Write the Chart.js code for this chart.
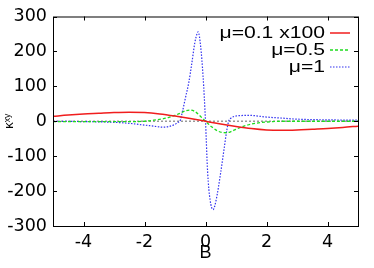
<!DOCTYPE html>
<html>
<head>
<meta charset="utf-8">
<script src="https://cdn.jsdelivr.net/npm/chart.js@4"></script>
<style>
  html, body { margin: 0; padding: 0; background: #fff; }
  #wrap { width: 374px; height: 268px; }
</style>
</head>
<body>
<div id="wrap"><canvas id="kappaChart"></canvas></div>
<script>
// tick labels
const xTicks = [-4, -2, 0, 2, 4];
const yTicks = [-300, -200, -100, 0, 100, 200, 300];

// mu = 0.1 (scaled x100)
const redB = [-5, -4.5, -4, -3.5, -3, -2.5, -2, -1.5, -1, -0.5, 0, 0.5, 1, 1.5, 2, 2.5, 3, 3.5, 4, 4.5, 5];
const redK = [14, 18, 21, 23, 25, 26, 25, 21, 15, 8, 0, -8, -15, -21, -25, -26, -25, -23, -21, -18, -14];

// mu = 0.5
const greenB = [-5, -4, -3, -2.5, -2, -1.7, -1.4, -1.2, -1, -0.8, -0.65, -0.5, -0.35, -0.2, 0, 0.2, 0.4, 0.55, 0.7, 0.85, 1, 1.2, 1.5, 1.8, 2.2, 2.5, 3, 4, 5];
const greenK = [-1, -1, -1, -1, 0, 3, 7, 11, 17, 24, 30, 32, 28, 17, 0, -16, -28, -32, -33, -29, -23, -16, -8, -4, -1, 0, 0, 0, 0];

// mu = 1
const blueB = [-5, -4, -3, -2.5, -2, -1.7, -1.4, -1.2, -1, -0.9, -0.84, -0.75, -0.65, -0.55, -0.45, -0.35, -0.28, -0.24, -0.16, -0.08, 0, 0.07, 0.15, 0.25, 0.35, 0.5, 0.6, 0.7, 0.76, 0.85, 1, 1.12, 1.4, 1.6, 2, 2.5, 3, 4, 5];
const blueK = [0, -1, -3, -6, -11, -14, -17, -15, -9, -3, 0, 30, 70, 110, 165, 225, 250, 256, 215, 129, 0, -146, -225, -253, -225, -146, -85, -25, 0, 10, 15, 16, 17, 16, 12, 9, 6, 4, 3];

const toPoints = (bs, ks) => bs.map((b, i) => ({ x: b, y: ks[i] }));

Chart.defaults.font.family = "'Liberation Sans', Arial, sans-serif";
Chart.defaults.color = '#000';
const tickFont = { family: "'DejaVu Sans', sans-serif", size: 17.5 };

const frame = {
    id: 'frame',
    beforeDatasetsDraw(chart) {
        const { ctx, chartArea: a, scales: { y } } = chart;
        const y0 = y.getPixelForValue(0);
        ctx.save();
        ctx.strokeStyle = '#9a9a9a';
        ctx.lineWidth = 1.5;
        ctx.setLineDash([2, 2]);
        ctx.beginPath();
        ctx.moveTo(a.left, y0);
        ctx.lineTo(a.right, y0);
        ctx.stroke();
        ctx.restore();
    },
    afterDraw(chart) {
        const { ctx, chartArea: a, scales: { x, y } } = chart;
        ctx.save();
        ctx.strokeStyle = '#000';
        ctx.lineWidth = 1;
        ctx.strokeRect(a.left + 0.5, a.top + 0.5, a.right - a.left, a.bottom - a.top);
        // inward ticks on all four sides
        ctx.beginPath();
        xTicks.forEach(v => {
            const px = Math.round(x.getPixelForValue(v)) + 0.5;
            ctx.moveTo(px, a.bottom); ctx.lineTo(px, a.bottom - 4);
            ctx.moveTo(px, a.top); ctx.lineTo(px, a.top + 4);
        });
        yTicks.forEach(v => {
            const py = Math.round(y.getPixelForValue(v)) + 0.5;
            ctx.moveTo(a.left, py); ctx.lineTo(a.left + 4, py);
            ctx.moveTo(a.right, py); ctx.lineTo(a.right - 4, py);
        });
        ctx.stroke();

        // gnuplot-style key: text (a bit stretched) then line sample
        chart.data.datasets.forEach((ds, i) => {
            const ry = a.top + 16 + i * 17;
            const tx = a.right - 33;
            ctx.save();
            ctx.translate(tx, ry + 1);
            ctx.scale(1.32, 1);
            ctx.font = "16px 'Liberation Sans', Arial, sans-serif";
            ctx.textAlign = 'right';
            ctx.textBaseline = 'middle';
            ctx.fillStyle = '#000';
            ctx.fillText(ds.label, 0, 0);
            ctx.restore();
            ctx.strokeStyle = ds.borderColor;
            ctx.lineWidth = ds.borderWidth;
            ctx.setLineDash(ds.borderDash || []);
            ctx.beginPath();
            ctx.moveTo(a.right - 28, ry + 0.5);
            ctx.lineTo(a.right - 8, ry + 0.5);
            ctx.stroke();
        });
        ctx.restore();
    }
};

new Chart(document.getElementById('kappaChart'), {
    type: 'line',
    data: {
        datasets: [
            {
                label: 'μ=0.1 x100',
                data: toPoints(redB, redK),
                borderColor: 'rgb(240,30,30)',
                borderWidth: 1.5
            },
            {
                label: 'μ=0.5',
                data: toPoints(greenB, greenK),
                borderColor: 'rgb(30,220,30)',
                borderWidth: 1.3,
                borderDash: [3, 2]
            },
            {
                label: 'μ=1',
                data: toPoints(blueB, blueK),
                borderColor: 'rgb(50,50,240)',
                borderWidth: 1.2,
                borderDash: [1.5, 1.5]
            }
        ]
    },
    options: {
        responsive: true,
        maintainAspectRatio: false,
        animation: false,
        elements: { point: { radius: 0 }, line: { cubicInterpolationMode: 'monotone' } },
        layout: { padding: { top: 8, right: 16, left: 0, bottom: 0 } },
        scales: {
            x: {
                type: 'linear',
                min: -5,
                max: 5,
                afterBuildTicks: s => { s.ticks = xTicks.map(v => ({ value: v })); },
                afterFit: s => { s.height = 42; },
                grid: { display: false, drawTicks: false },
                border: { display: false },
                ticks: { font: tickFont, padding: 6, maxRotation: 0 },
                title: { display: true, text: 'B', font: { size: 18 }, padding: { top: 0, bottom: 4 } }
            },
            y: {
                min: -300,
                max: 300,
                afterBuildTicks: s => { s.ticks = yTicks.map(v => ({ value: v })); },
                afterFit: s => { s.width = 53; },
                grid: { display: false, drawTicks: false },
                border: { display: false },
                ticks: { font: tickFont, padding: 6 },
                title: { display: true, text: 'κˣʸ', font: { size: 13 }, padding: { top: 2, bottom: 0 } }
            }
        },
        plugins: {
            legend: { display: false },
            tooltip: { enabled: false }
        }
    },
    plugins: [frame]
});
</script>
</body>
</html>
